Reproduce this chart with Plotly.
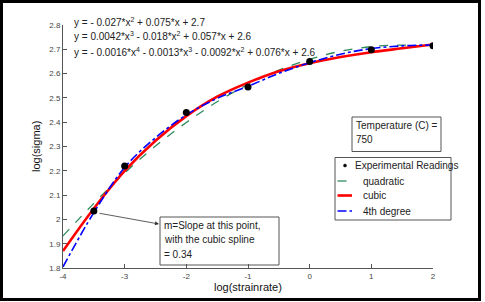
import plotly.graph_objects as go

# ---- data ----
exp_x = [-3.5, -3, -2, -1, 0, 1, 2]
exp_y = [2.035, 2.220, 2.440, 2.545, 2.650, 2.698, 2.715]

fit_x = [-4, -3.5, -3, -2.5, -2, -1.5, -1, -0.5, 0, 0.5, 1, 1.5, 2]
quad_y = [1.932, 2.066, 2.191, 2.302, 2.399, 2.484, 2.555, 2.614, 2.659, 2.692, 2.711, 2.717, 2.711]
cubic_y = [1.870, 2.045, 2.200, 2.324, 2.425, 2.505, 2.563, 2.610, 2.643, 2.668, 2.688, 2.704, 2.720]
quart_y = [1.805, 2.028, 2.214, 2.336, 2.430, 2.498, 2.548, 2.601, 2.645, 2.680, 2.703, 2.714, 2.718]

x_ticks = [-4, -3, -2, -1, 0, 1, 2]
x_ticktext = ["-4", "-3", "-2", "-1", "0", "1", "2"]
y_ticks = [1.8, 1.9, 2.0, 2.1, 2.2, 2.3, 2.4, 2.5, 2.6, 2.7, 2.8]
y_ticktext = ["1.8", "1.9", "2", "2.1", "2.2", "2.3", "2.4", "2.5", "2.6", "2.7", "2.8"]

equations = [
    "y = - 0.027*x<sup>2</sup> + 0.075*x + 2.7",
    "y = 0.0042*x<sup>3</sup> - 0.018*x<sup>2</sup> + 0.057*x + 2.6",
    "y = - 0.0016*x<sup>4</sup> - 0.0013*x<sup>3</sup> - 0.0092*x<sup>2</sup> + 0.076*x + 2.6",
]
legend_names = ["Experimental Readings", "quadratic", "cubic", "4th degree"]

# ---- layout geometry (pixels) ----
W, H = 485, 302
L, R, T, B = 63, 52, 25, 34
PW, PH = W - L - R, H - T - B


def px(p):
    return (p - L) / PW


def py(p):
    return (H - B - p) / PH


FONT = "Liberation Sans, Arial, sans-serif"
GREEN = "#2f8a5c"
RED = "#ff0000"
BLUE = "#0000ff"
TXT = "#222222"
FS = 10

fig = go.Figure()
fig.add_trace(go.Scatter(x=fit_x, y=quad_y, mode="lines", name=legend_names[1],
                         line=dict(color=GREEN, width=1.3, dash="dash", shape="spline")))
fig.add_trace(go.Scatter(x=fit_x, y=cubic_y, mode="lines", name=legend_names[2],
                         line=dict(color=RED, width=2.6, shape="spline")))
fig.add_trace(go.Scatter(x=fit_x, y=quart_y, mode="lines", name=legend_names[3],
                         line=dict(color=BLUE, width=1.6, dash="dashdot", shape="spline")))
fig.add_trace(go.Scatter(x=exp_x, y=exp_y, mode="markers", name=legend_names[0],
                         marker=dict(color="black", size=7)))

shapes = []
annotations = []

# outer frame
shapes.append(dict(type="rect", xref="paper", yref="paper",
                   x0=px(1.5), x1=px(479.5), y0=py(299.5), y1=py(1.5),
                   line=dict(color="black", width=3), layer="below"))

# equations
for i, eq in enumerate(equations):
    annotations.append(dict(xref="paper", yref="paper", x=px(72), y=py(21.5 + 15 * i),
                            xanchor="left", yanchor="middle", text=eq, showarrow=False,
                            font=dict(family=FONT, size=FS, color=TXT)))

# temperature box
shapes.append(dict(type="rect", xref="paper", yref="paper",
                   x0=px(352), x1=px(441), y0=py(151.5), y1=py(117),
                   line=dict(color="#555", width=1), layer="below"))
for i, t in enumerate(["Temperature (C) =", "750"]):
    annotations.append(dict(xref="paper", yref="paper", x=px(353.5), y=py(125.5 + 13.5 * i),
                            xanchor="left", yanchor="middle", text=t, showarrow=False,
                            font=dict(family=FONT, size=FS, color=TXT)))

# slope note box
shapes.append(dict(type="rect", xref="paper", yref="paper",
                   x0=px(160), x1=px(279), y0=py(265), y1=py(217),
                   line=dict(color="#555", width=1), layer="below"))
for i, t in enumerate(["m=Slope at this point,", "with the cubic spline", "= 0.34"]):
    annotations.append(dict(xref="paper", yref="paper", x=px(161.5), y=py(225.5 + 14.3 * i),
                            xanchor="left", yanchor="middle", text=t, showarrow=False,
                            font=dict(family=FONT, size=FS, color=TXT)))

# arrow from the point to the note
annotations.append(dict(xref="paper", yref="paper", x=px(159), y=py(224),
                        axref="pixel", ayref="pixel", ax=-61, ay=-11,
                        text="", showarrow=True, arrowhead=2, arrowsize=1,
                        arrowwidth=0.8, arrowcolor="#333"))

# legend (drawn)
shapes.append(dict(type="rect", xref="paper", yref="paper",
                   x0=px(335), x1=px(451), y0=py(220), y1=py(157.5),
                   line=dict(color="#555", width=1), layer="below"))
rows = [165.5, 181, 195.5, 211]
shapes.append(dict(type="circle", xref="paper", yref="paper",
                   x0=px(343.5), x1=px(346.5), y0=py(167), y1=py(164),
                   fillcolor="black", line=dict(color="black", width=0.5), layer="below"))
for (color, width, dash), yr in zip([(GREEN, 1.3, "dash"), (RED, 2.6, "solid"), (BLUE, 1.6, "dashdot")], rows[1:]):
    shapes.append(dict(type="line", xref="paper", yref="paper",
                       x0=px(337.5), x1=px(352), y0=py(yr), y1=py(yr),
                       line=dict(color=color, width=width, dash=dash), layer="below"))
for name, yr, xl in zip(legend_names, rows, [352.5, 360.5, 360.5, 360.5]):
    annotations.append(dict(xref="paper", yref="paper", x=px(xl), y=py(yr),
                            xanchor="left", yanchor="middle", text=name, showarrow=False,
                            font=dict(family=FONT, size=FS, color=TXT)))

# axis titles
annotations.append(dict(xref="paper", yref="paper", x=px(248), y=py(287),
                        xanchor="center", yanchor="middle", text="log(strainrate)", showarrow=False,
                        font=dict(family=FONT, size=11, color="#111")))
annotations.append(dict(xref="paper", yref="paper", x=px(36), y=py(147),
                        xanchor="center", yanchor="middle", text="log(sigma)", showarrow=False,
                        textangle=-90, font=dict(family=FONT, size=11, color="#111")))

fig.update_layout(
    width=W, height=H,
    margin=dict(l=L, r=R, t=T, b=B, pad=0),
    paper_bgcolor="white", plot_bgcolor="white",
    showlegend=False,
    shapes=shapes, annotations=annotations,
    font=dict(family=FONT, color="#444"),
)
fig.update_xaxes(range=[-4, 2], tickvals=x_ticks, ticktext=x_ticktext,
                 showgrid=False, zeroline=False, showline=True, linecolor="#555", linewidth=1,
                 ticks="inside", ticklen=4, tickcolor="#555",
                 tickfont=dict(family=FONT, size=8, color="#444"))
fig.update_yaxes(range=[1.8, 2.8], tickvals=y_ticks, ticktext=y_ticktext,
                 showgrid=False, zeroline=False, showline=True, linecolor="#555", linewidth=1,
                 ticks="inside", ticklen=4, tickcolor="#555",
                 tickfont=dict(family=FONT, size=8, color="#444"))

fig.write_html("out.html")
